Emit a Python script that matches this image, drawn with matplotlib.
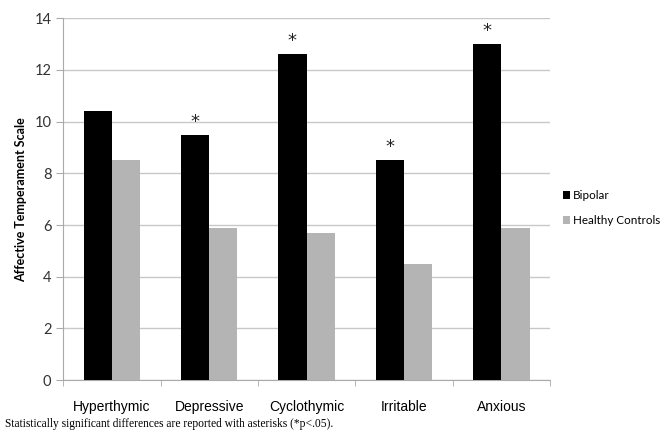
import matplotlib.pyplot as plt
import numpy as np

categories = ['Hyperthymic', 'Depressive', 'Cyclothymic', 'Irritable', 'Anxious']
bipolar = [10.4, 9.5, 12.6, 8.5, 13.0]
controls = [8.5, 5.9, 5.7, 4.5, 5.9]
significant = [False, True, True, True, True]

x = np.arange(len(categories))
bar_width = 0.29

fig = plt.figure(figsize=(6.65, 4.32), dpi=100)
ax = fig.add_axes([0.095, 0.12, 0.732, 0.838])

ax.bar(x - bar_width / 2, bipolar, width=bar_width, color='black', label='Bipolar', zorder=3)
ax.bar(x + bar_width / 2, controls, width=bar_width, color='#b4b4b4', label='Healthy Controls', zorder=3)

# asterisks over the significant bipolar bars
for xi, v, s in zip(x, bipolar, significant):
    if s:
        ax.text(xi - bar_width / 2, v + 0.15, '*', ha='center', va='bottom',
                fontsize=13, fontfamily='DejaVu Sans', color='#222222')

ax.set_xlim(-0.5, len(categories) - 0.5)
ax.set_ylim(0, 14)
ax.set_yticks(np.arange(0, 15, 2))
ax.yaxis.grid(True, color='#c8c8c8', linewidth=1.0, zorder=0)
ax.set_axisbelow(True)

ax.set_xticks(x)
ax.set_xticklabels(categories, fontfamily='Liberation Sans', fontsize=10)
ax.set_xticks(np.arange(-0.5, len(categories)), minor=True)
ax.tick_params(axis='x', which='major', length=0, pad=14)
ax.tick_params(axis='x', which='minor', length=4, color='#aaaaaa', direction='out')
ax.tick_params(axis='y', length=5, color='#aaaaaa', labelsize=10.5, labelcolor='#333333')
for lbl in ax.get_yticklabels():
    lbl.set_fontfamily('Lato')

for side in ['top', 'right']:
    ax.spines[side].set_visible(False)
for side in ['left', 'bottom']:
    ax.spines[side].set_color('#aaaaaa')

ax.set_ylabel('Affective Temperament Scale', fontfamily='Lato', fontweight='bold',
              fontsize=9, labelpad=5)

ax.legend(loc='center left', bbox_to_anchor=(1.005, 0.475), frameon=False,
          handlelength=0.6, handleheight=0.6, handletextpad=0.25, labelspacing=1.2,
          prop={'family': 'Lato', 'size': 8.4})

fig.text(0.008, 0.018, 'Statistically significant differences are reported with asterisks (*p<.05).',
         fontfamily='Liberation Serif', fontsize=8.3, ha='left', va='center')

plt.savefig('out.png', dpi=100)
